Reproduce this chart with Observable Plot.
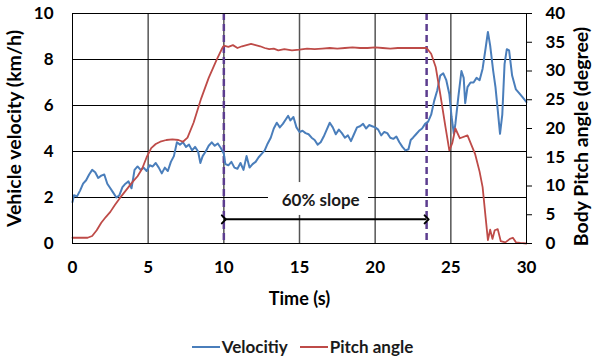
<!DOCTYPE html>
<html>
<head>
<meta charset="utf-8">
<script src="https://cdn.jsdelivr.net/npm/d3@7"></script>
<script src="https://cdn.jsdelivr.net/npm/@observablehq/plot@0.6"></script>
<style>
  body { margin: 0; background: #fff; }
  #legend { display: flex; justify-content: center; padding-left: 12px; gap: 12px; padding-top: 19px;
    font-family: Lato, sans-serif; font-weight: bold; font-size: 17px; color: #1a1a1a; line-height: 20px; }
  .item { display: flex; align-items: center; gap: 2px; }
  .swatch { width: 28px; height: 2px; display: inline-block; }
</style>
</head>
<body>
<div id="chart"></div>
<div id="legend"></div>
<script>
// ---- data ----
const timeV = [0.0,0.1,0.3,0.5,0.7,0.9,1.1,1.3,1.5,1.7,1.9,2.1,2.3,2.5,2.7,2.9,3.1,3.3,3.5,3.7,3.9,4.1,4.3,4.5,4.7,4.9,5.1,5.3,5.5,5.7,5.9,6.1,6.3,6.5,6.7,6.9,7.1,7.3,7.5,7.7,7.9,8.1,8.3,8.45,8.6,8.8,9.0,9.2,9.4,9.6,9.8,10.0,10.1,10.3,10.5,10.7,10.9,11.1,11.3,11.5,11.7,11.9,12.1,12.3,12.5,12.7,12.9,13.1,13.3,13.5,13.7,13.9,14.1,14.25,14.4,14.6,14.8,15.0,15.2,15.4,15.6,15.8,16.0,16.2,16.4,16.6,16.8,17.0,17.2,17.4,17.6,17.8,18.0,18.2,18.4,18.6,18.8,19.0,19.2,19.4,19.6,19.8,20.0,20.2,20.4,20.6,20.8,21.0,21.2,21.4,21.6,21.8,22.0,22.2,22.35,22.5,22.7,22.9,23.1,23.3,23.5,23.7,23.9,24.1,24.3,24.5,24.7,24.9,25.05,25.2,25.3,25.5,25.7,25.85,25.95,26.1,26.3,26.5,26.7,26.9,27.1,27.3,27.45,27.6,27.8,27.95,28.1,28.25,28.4,28.55,28.7,28.85,29.05,29.3,29.5,29.75,30.0];
const velocity = [1.8,2.1,2.05,2.3,2.6,2.75,3.0,3.2,3.1,2.85,2.95,3.0,2.6,2.4,2.2,2.0,2.1,2.45,2.6,2.7,2.4,3.2,3.35,3.2,3.3,3.15,3.4,3.35,3.5,3.3,3.05,3.3,3.15,3.55,3.8,4.4,4.3,4.4,4.2,4.3,4.05,4.2,4.0,3.5,3.8,4.0,4.25,4.4,4.25,4.35,4.15,3.9,3.45,3.4,3.55,3.3,3.25,3.5,3.2,3.8,3.3,3.45,3.55,3.75,3.9,4.05,4.35,4.6,5.0,5.25,5.05,5.2,5.4,5.55,5.35,5.5,5.05,4.85,4.9,4.8,4.75,4.6,4.5,4.3,4.4,4.65,4.95,5.25,5.05,4.75,4.95,4.8,4.6,4.7,4.45,4.75,5.05,5.1,5.2,5.0,5.15,5.1,5.05,4.95,4.7,4.85,4.8,4.6,4.55,4.65,4.4,4.2,4.05,4.1,4.5,4.6,4.75,4.9,5.0,5.2,5.3,5.6,6.2,6.65,7.3,7.4,7.1,6.5,5.5,4.77,5.2,6.4,7.5,7.2,6.1,6.8,7.0,7.0,7.2,7.1,7.6,8.5,9.2,8.6,7.5,6.8,5.8,4.77,5.6,7.8,8.45,8.4,7.3,6.7,6.55,6.35,6.15];
const timeP = [0,0.5,1.0,1.3,1.6,1.9,2.2,2.5,2.8,3.1,3.4,3.7,4.0,4.3,4.6,4.9,5.2,5.5,5.8,6.2,6.6,7.0,7.3,7.6,8.0,8.5,9.0,9.5,9.9,10.0,10.3,10.6,10.9,11.2,11.5,11.8,12.1,12.4,12.7,13.0,13.3,13.6,14.0,14.5,15,15.5,16,16.5,17,17.5,18,18.5,19,19.5,20,20.5,21,21.5,22,22.5,23,23.4,23.7,24.0,24.3,24.65,24.9,25.1,25.3,25.6,26.1,26.6,26.9,27.1,27.3,27.45,27.6,27.75,27.9,28.1,28.3,28.6,28.9,29.1,29.3,29.6,30];
const pitch = [1.0,1.0,1.0,1.3,2.3,3.6,4.6,5.5,6.7,7.8,8.8,9.8,10.8,11.7,13.0,15.0,16.6,17.3,17.7,18.0,18.1,18.0,17.7,18.4,21.0,25.2,28.8,31.8,34.0,34.4,34.2,34.5,34.0,34.3,34.5,34.7,34.5,34.3,34.0,33.8,33.9,33.6,33.8,33.6,33.7,33.9,33.8,33.9,34.0,33.9,34.0,34.1,34.0,34.0,34.1,34.0,33.9,34.0,34.0,34.0,34.0,34.0,33.0,30.7,26.0,20.2,16.2,17.5,20.0,18.3,18.8,15.6,12.5,9.8,4.5,0.6,2.4,0.8,2.3,2.5,0.4,0.2,0.8,1.0,0.2,0.1,0.0];
const xTicks = [0,5,10,15,20,25,30];
const vTicks = [0,2,4,6,8,10];
const pTicks = [0,5,10,15,20,25,30,35,40];
const slopeStart = 10, slopeEnd = 23.4;
const slopeLabel = "60% slope";
const seriesNames = ["Velocitiy", "Pitch angle"];
const colors = ["#4a7ebb", "#be4b48"];

const vMax = 10, pMax = 40, k = vMax / pMax; // secondary axis mapping
const velData = timeV.map((t, i) => ({t, v: velocity[i]}));
const pitchData = timeP.map((t, i) => ({t, p: pitch[i]}));

const chart = Plot.plot({
  width: 593, height: 318,
  marginLeft: 72, marginRight: 67, marginTop: 13, marginBottom: 75,
  style: {fontFamily: "Lato, sans-serif", fontWeight: "bold", fontSize: "17px", color: "#000", background: "#fff"},
  x: {domain: [0, 30]},
  y: {domain: [0, vMax]},
  marks: [
    Plot.gridX([5, 10, 15, 20, 25], {stroke: "#555", strokeOpacity: 1, strokeWidth: 1.5}),
    Plot.gridY([2, 4, 6, 8], {stroke: "#000", strokeOpacity: 1, strokeWidth: 1}),
    Plot.rect([{x1: 12.95, x2: 19.56, y1: 1.22, y2: 2.65}], {x1: "x1", x2: "x2", y1: "y1", y2: "y2", fill: "#fff"}),
    Plot.ruleX([slopeStart, slopeEnd], {stroke: "#5c3d8f", strokeWidth: 2.5, strokeDasharray: "7,4"}),
    Plot.line(velData, {x: "t", y: "v", stroke: colors[0], strokeWidth: 2}),
    Plot.line(pitchData, {x: "t", y: d => d.p * k, stroke: colors[1], strokeWidth: 1.8}),
    Plot.frame({stroke: "#000"}),
    Plot.link([{x1: slopeStart, x2: slopeEnd, y: 1.05}], {x1: "x1", x2: "x2", y1: "y", y2: "y", stroke: "#000", strokeWidth: 2, markerStart: "arrow", markerEnd: "arrow"}),
    Plot.text([{x: 16.4, y: 1.87}], {x: "x", y: "y", text: () => slopeLabel, fontSize: 17, fill: "#1a1a1a"}),
    Plot.axisX(xTicks, {tickSize: 0, tickPadding: 17, label: null}),
    Plot.axisY(vTicks, {anchor: "left", tickSize: 0, tickPadding: 19, label: null}),
    Plot.axisY(pTicks.map(d => d * k), {anchor: "right", tickSize: 5, tickPadding: 14, tickFormat: d => Math.round(d / k), label: null}),
    Plot.text(["Time (s)"], {frameAnchor: "bottom", dy: 61, fontSize: 18, lineAnchor: "bottom"}),
    Plot.text(["Vehicle velocity (km/h)"], {frameAnchor: "left", dx: -58, rotate: -90, fontSize: 19.5, textAnchor: "middle"}),
    Plot.text(["Body Pitch angle (degree)"], {frameAnchor: "right", dx: 55, dy: 8, rotate: -90, fontSize: 19.5, textAnchor: "middle"})
  ]
});
document.getElementById("chart").append(chart);

const legend = d3.select("#legend");
seriesNames.forEach((name, i) => {
  const item = legend.append("div").attr("class", "item");
  item.append("span").attr("class", "swatch").style("background", colors[i]);
  item.append("span").text(name);
});
</script>
</body>
</html>
